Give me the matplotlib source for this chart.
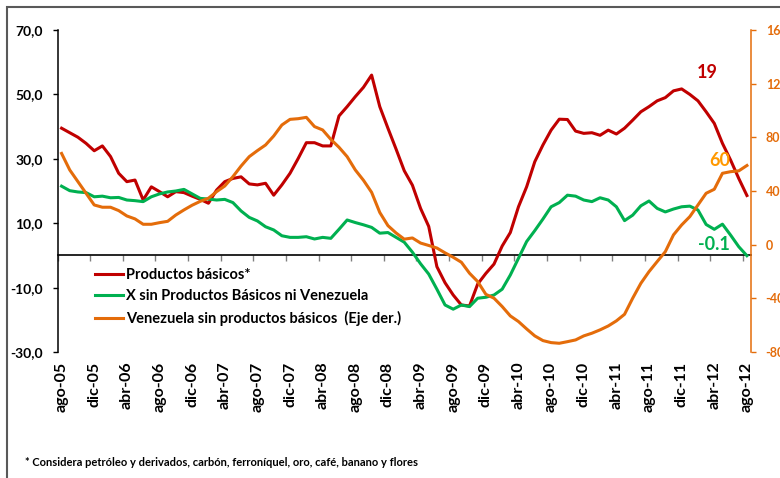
import numpy as np
import matplotlib
matplotlib.use('Agg')
import matplotlib.pyplot as plt
from matplotlib.patches import Rectangle

plt.rcParams['font.family'] = ['Lato', 'DejaVu Sans']
plt.rcParams['font.weight'] = 'bold'

RED = '#C00000'
GREEN = '#00B050'
ORANGE = '#E46C0A'

# monthly, ago-05 .. ago-12
productos = [39.5, 38.1, 36.7, 34.8, 32.5, 34.0, 30.7, 25.5, 22.9, 23.4,
             17.2, 21.3, 19.8, 18.2, 19.8, 19.5, 18.4, 17.4, 16.2, 20.3,
             22.9, 23.9, 24.4, 22.2, 21.9, 22.4, 18.7, 21.9, 25.5, 30.1,
             35.0, 35.0, 34.0, 34.0, 43.3, 46.2, 49.3, 52.2, 56.0, 46.2,
             39.5, 33.0, 26.3, 21.8, 14.6, 9.0, -3.5, -8.5, -12.3, -15.4,
             -15.7, -8.9, -5.6, -2.7, 2.9, 7.1, 15.1, 21.3, 29.1, 34.3,
             38.9, 42.3, 42.2, 38.6, 37.9, 38.1, 37.3, 38.9, 37.7, 39.5,
             42.0, 44.6, 46.2, 48.0, 49.0, 51.1, 51.7, 50.0, 48.0, 44.6,
             41.0, 34.8, 29.6, 23.9, 18.6]

x_sin_pb = [21.5, 20.1, 19.7, 19.5, 18.2, 18.4, 17.9, 18.0, 17.2, 17.0,
            16.7, 18.2, 19.1, 19.7, 20.0, 20.5, 19.1, 17.7, 17.5, 17.2,
            17.4, 16.4, 13.8, 11.8, 10.7, 8.9, 7.9, 6.1, 5.6, 5.6,
            5.8, 5.1, 5.6, 5.3, 8.1, 11.0, 10.2, 9.5, 8.7, 6.9,
            7.1, 5.6, 4.1, 1.0, -2.6, -5.8, -10.5, -15.4, -16.7, -15.4,
            -15.9, -13.3, -13.0, -12.3, -10.5, -6.1, -0.9, 4.3, 7.7, 11.3,
            15.1, 16.4, 18.7, 18.4, 17.2, 16.7, 17.9, 17.2, 15.1, 10.8,
            12.5, 15.4, 16.9, 14.6, 13.5, 14.4, 15.1, 15.3, 14.1, 9.6,
            8.1, 9.7, 6.3, 2.7, -0.1]

venezuela = [68.0, 55.7, 47.0, 38.3, 29.6, 27.9, 27.9, 25.4, 21.4, 19.2,
             15.2, 15.2, 16.4, 17.4, 22.1, 25.9, 29.4, 32.3, 34.6, 39.5,
             43.7, 50.7, 58.6, 65.6, 70.1, 74.3, 81.0, 89.2, 93.4, 93.9,
             94.9, 88.0, 85.5, 78.5, 72.6, 65.6, 55.7, 48.0, 39.0, 24.0,
             14.2, 8.7, 4.1, 5.0, 1.2, -0.6, -2.5, -6.1, -9.4, -13.1,
             -21.3, -27.5, -37.0, -39.9, -46.1, -53.1, -57.3, -62.8, -68.0, -71.5,
             -73.0, -73.5, -72.3, -71.0, -68.0, -66.0, -63.5, -60.6, -56.8, -51.9,
             -39.9, -28.8, -20.1, -12.6, -5.2, 7.3, 14.7, 20.9, 29.6, 38.3,
             41.3, 53.2, 54.4, 55.0, 59.0]

x_labels = ['ago-05', 'dic-05', 'abr-06', 'ago-06', 'dic-06', 'abr-07',
            'ago-07', 'dic-07', 'abr-08', 'ago-08', 'dic-08', 'abr-09',
            'ago-09', 'dic-09', 'abr-10', 'ago-10', 'dic-10', 'abr-11',
            'ago-11', 'dic-11', 'abr-12', 'ago-12']
left_ticks = [-30, -10, 10, 30, 50, 70]
left_labels = ['-30,0', '-10,0', '10,0', '30,0', '50,0', '70,0']
right_ticks = [-80, -40, 0, 40, 80, 120, 160]
right_labels = ['-80', '-40', '0', '40', '80', '120', '160']

x = np.arange(len(productos))

fig = plt.figure(figsize=(7.8, 4.78), dpi=100)
ax = fig.add_axes([57.5 / 780, 1 - 352 / 478, (751 - 57.5) / 780, 322 / 478])
ax2 = ax.twinx()

l1, = ax.plot(x, productos, color=RED, lw=2.2)
l2, = ax.plot(x, x_sin_pb, color=GREEN, lw=2.2)
l3, = ax2.plot(x, venezuela, color=ORANGE, lw=2.2)

ax.set_xlim(-0.5, len(x) - 0.5)
ax.set_ylim(-30, 70)
ax2.set_ylim(-80, 160)

ax.set_yticks(left_ticks)
ax.set_yticklabels(left_labels)
ax.tick_params(axis='y', length=3.6, width=1, pad=7, labelsize=10)
ax.set_xticks(x[::4])
ax.set_xticklabels(x_labels, rotation=90)
ax.tick_params(axis='x', length=0, pad=7, labelsize=11.5)
for s in ['top', 'right', 'bottom']:
    ax.spines[s].set_visible(False)
ax.spines['left'].set_linewidth(1.1)

ax2.set_yticks(right_ticks)
ax2.set_yticklabels(right_labels)
ax2.tick_params(axis='y', colors=ORANGE, length=3.6, width=1, pad=7, labelsize=9)
for s in ['top', 'left', 'bottom']:
    ax2.spines[s].set_visible(False)
ax2.spines['right'].set_color(ORANGE)
ax2.spines['right'].set_linewidth(1.1)

# horizontal axis line crossing at 0 with category tick marks
secax = ax.secondary_xaxis((0 - (-30)) / 100)
secax.set_xticks(x[::4] - 0.5)
secax.set_xticklabels([])
secax.tick_params(axis='x', direction='out', length=4, width=1, color='#808080')
secax.spines['bottom'].set_linewidth(1.2)

ax.text(79.1, 56.7, '19', color=RED, fontsize=13, ha='center', va='center')
ax2.text(80.7, 62.6, '60', color='#FF9900', fontsize=13, ha='center', va='center')
ax.text(79.9, 3.3, '-0.1', color=GREEN, fontsize=13, ha='center', va='center')

fig.legend([l1, l2, l3],
           ['Productos básicos*', 'X sin Productos Básicos ni Venezuela',
            'Venezuela sin productos básicos  (Eje der.)'],
           loc='upper left', bbox_to_anchor=(95 / 780, 1 - 268 / 478),
           frameon=False, fontsize=10.5, handlelength=1.95, handletextpad=0.15,
           labelspacing=0.5, borderpad=0, borderaxespad=0)

fig.text(25 / 780, 1 - 463 / 478,
         '* Considera petróleo y derivados, carbón, ferroníquel, oro, café, banano y flores',
         fontsize=8, va='center', ha='left')

fig.patches.append(Rectangle((7 / 780, -0.1), 1.2, 1.1 - 7 / 478, fill=False,
                             edgecolor='#595959', linewidth=1.5,
                             transform=fig.transFigure, clip_on=False))

fig.savefig('out.png', dpi=100)
